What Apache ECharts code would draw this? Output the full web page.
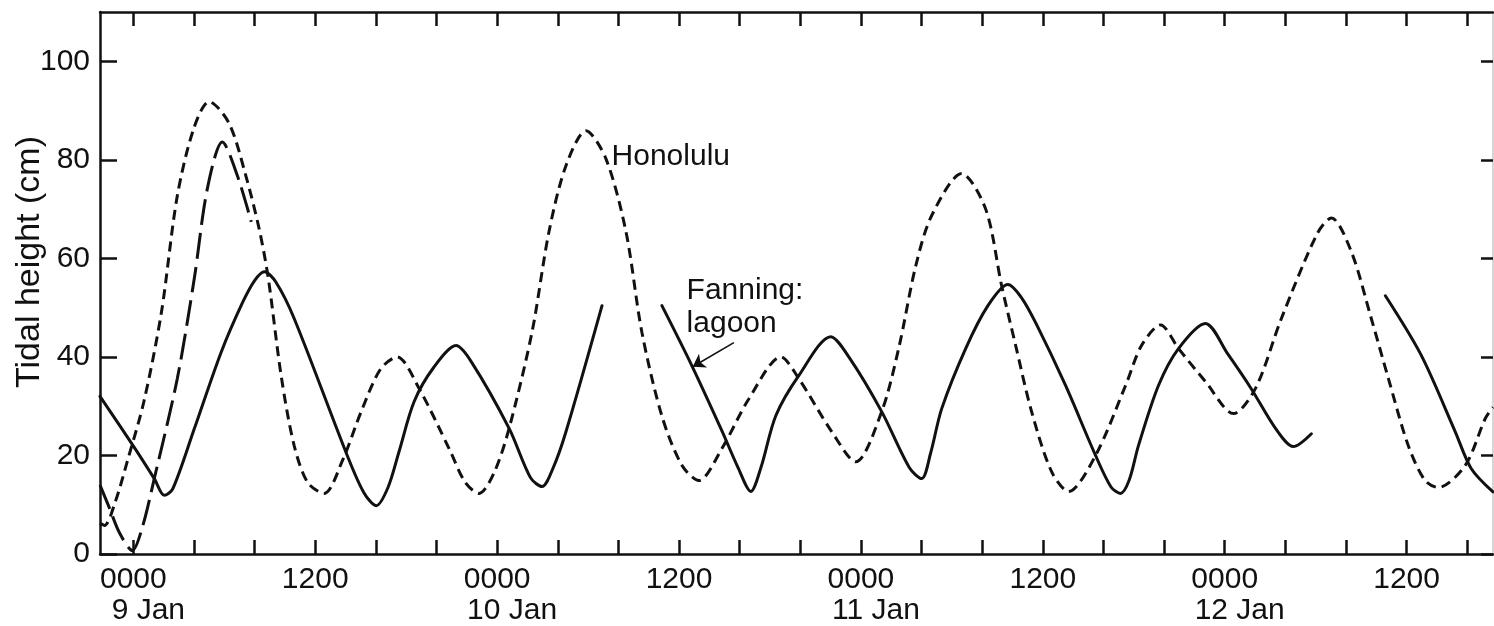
<!DOCTYPE html>
<html>
<head>
<meta charset="utf-8">
<title>Tidal height</title>
<script src="https://cdn.jsdelivr.net/npm/echarts@6/dist/echarts.min.js"></script>
<style>
  html, body { margin: 0; padding: 0; background: #fff; }
  #chart { width: 1494px; height: 626px; }
</style>
</head>
<body>
<div id="chart"></div>
<script>
// Hours are counted from 0000, 9 Jan; heights in cm.
const xTickHours = [0, 4, 8, 12, 16, 20, 24, 28, 32, 36, 40, 44, 48, 52, 56, 60, 64, 68, 72, 76, 80, 84, 88];
const xLabelHours = [0, 12, 24, 36, 48, 60, 72, 84];
const xLabelTime = ['0000', '1200', '0000', '1200', '0000', '1200', '0000', '1200'];
const xLabelDay = ['9 Jan', '', '10 Jan', '', '11 Jan', '', '12 Jan', ''];
const yTicks = [0, 20, 40, 60, 80, 100];

// Honolulu tide (short dashes)
const honolulu = [
  [-2.2, 6.2], [-1.9, 5.8], [-1.2, 10.5], [-0.4, 18.8], [0.7, 31], [1.85, 49], [2.9, 72.7],
  [4.0, 86.5], [5.0, 91.8], [6.3, 87.5], [7.4, 77], [8.3, 66], [8.9, 56], [9.76, 36],
  [10.61, 22], [11.5, 14.5], [12.59, 12.3], [13.8, 19], [15.03, 28.9], [16.3, 37.5], [17.4, 40],
  [18.85, 33.6], [20.83, 21.4], [21.9, 14.5], [22.81, 12.3], [23.8, 16.5], [24.79, 25.5], [26.3, 45],
  [27.42, 65.4], [28.54, 78.8], [29.86, 85.9], [31.18, 80.2], [32.5, 65.4],
  [33.55, 45], [34.87, 28], [36.19, 18], [37.31, 14.9], [38.83, 21.4],
  [40.61, 31.5], [42.72, 40], [43.9, 35.6], [46.08, 24.8], [47.66, 18.7],
  [49.37, 28.9], [50.49, 41.7], [51.62, 58.5], [52.67, 68.7], [54.65, 77.2],
  [56.23, 70], [57.28, 54.5], [58.21, 42.3], [59.26, 28.9], [60.58, 16.7],
  [61.7, 12.7], [63.48, 20], [65.46, 34.2], [66.51, 42.3], [67.77, 46.5],
  [68.95, 41.7], [70.73, 35], [72.58, 28.5], [74.03, 33.6], [75.74, 47.8],
  [78.1, 65], [79.04, 68.2], [80.36, 61.3], [81.67, 47.8], [82.8, 35.6],
  [84.11, 22], [85.2, 15], [86.09, 13.5], [87.87, 18], [89.19, 27.5], [89.7, 29.8]
];

// Fanning, ocean side (long dashes), short record at the start
const fanningOcean = [
  [-2.2, 14], [-1.6, 9.5], [-0.9, 4.2], [-0.07, 0.7], [0.6, 5.5], [1.38, 15.3], [2.9, 35.6],
  [4.02, 55.9], [4.88, 74.1], [5.87, 83.6], [6.86, 76.8], [7.78, 67.4]
];

// Fanning lagoon (solid), three recorded stretches
const lagoonPart1 = [
  [-2.2, 32], [0.07, 21.6], [1.4, 15.2], [2.04, 11.9], [2.6, 13.2], [4.02, 25.4], [5.8, 41],
  [7.2, 51], [8.0, 55.5], [8.64, 57.3], [9.4, 55.2], [10.61, 47.8], [14.11, 20], [15.2, 12.5],
  [16.02, 9.8], [16.8, 13.5], [17.53, 20.8], [18.52, 30.9], [19.8, 37.8], [21.29, 42.3],
  [22.3, 39], [24.79, 25.5], [26.2, 15.5], [26.96, 13.7], [27.7, 17.5], [28.54, 24.8],
  [30.92, 50.4]
];
const lagoonPart2 = [
  [34.87, 50.4], [36.85, 38.2], [38.83, 25], [39.9, 17.5], [40.74, 12.7], [41.4, 17.5], [42.39, 28.1],
  [43.9, 36.2], [46.01, 44.1], [47.2, 40], [49.37, 28.9], [51.2, 17.5], [52.01, 15.3], [52.6, 20.5],
  [53.33, 29.5], [54.91, 41.7], [56.4, 50.5], [57.7, 54.7], [58.6, 52], [59.6, 46.5], [61.5, 34.2],
  [63.48, 20], [64.5, 13.6], [65.13, 12.3], [65.7, 15], [66.31, 22], [67.63, 34.2], [68.95, 41.7],
  [70.73, 46.8], [72.2, 40.6], [73.76, 33.5], [75.35, 25.5], [76.53, 21.8], [77.72, 24.4]
];
const lagoonPart3 = [
  [82.6, 52.4], [84.97, 40.3], [87.21, 24.8], [88.27, 17.3], [89.7, 12.6]
];

// Annotation anchors (hours, cm)
const honoluluNoteAt = [31.55, 80.6];
const lagoonNoteAt = [36.5, 50];
const arrowFrom = [39.62, 42.9];
const arrowTo = [36.9, 38.0];

const FONT = '"Liberation Sans", Arial, sans-serif';
const INK = '#111';
const SMOOTH = 0.3;

const chart = echarts.init(document.getElementById('chart'), null, { renderer: 'canvas' });

const solidStyle = { color: INK, width: 3, type: 'solid', cap: 'round', join: 'round' };

function lagoonSeries(data, extra) {
  return Object.assign({
    type: 'line', data: data, showSymbol: false, smooth: SMOOTH,
    lineStyle: solidStyle, z: 3, silent: true
  }, extra || {});
}

const tickStyle = { color: INK, width: 2.5 };

chart.setOption({
  animation: false,
  backgroundColor: '#fff',
  grid: { left: 100, right: 1, top: 12, bottom: 70, containLabel: false },
  xAxis: [
    {
      type: 'value', position: 'bottom', min: -2.2, max: 89.7,
      axisLine: { show: true, onZero: false, lineStyle: { color: INK, width: 2.5 } },
      axisTick: { show: true, inside: true, length: 14, lineStyle: tickStyle, customValues: xTickHours },
      axisLabel: {
        show: true, margin: 10, customValues: xLabelHours, color: INK,
        fontFamily: FONT, fontSize: 30, lineHeight: 31,
        formatter: function (v) {
          const i = xLabelHours.indexOf(Math.round(v));
          if (i < 0) return '';
          return xLabelDay[i] ? xLabelTime[i] + '\n{day|' + xLabelDay[i] + '}' : xLabelTime[i];
        },
        rich: { day: { fontFamily: FONT, fontSize: 30, lineHeight: 31, color: INK, padding: [0, 0, 0, 30] } }
      },
      splitLine: { show: false }
    },
    {
      type: 'value', position: 'top', min: -2.2, max: 89.7,
      axisLine: { show: true, onZero: false, lineStyle: { color: INK, width: 2.5 } },
      axisTick: { show: true, inside: true, length: 14, lineStyle: tickStyle, customValues: xTickHours },
      axisLabel: { show: false },
      splitLine: { show: false }
    }
  ],
  yAxis: [
    {
      type: 'value', position: 'left', min: 0, max: 110,
      axisLine: { show: true, onZero: false, lineStyle: { color: INK, width: 2.5 } },
      axisTick: { show: true, inside: true, length: 17, lineStyle: tickStyle, customValues: yTicks },
      axisLabel: { show: true, margin: 10, customValues: yTicks, color: INK, fontFamily: FONT, fontSize: 30 },
      splitLine: { show: false }
    },
    {
      type: 'value', position: 'right', min: 0, max: 110,
      axisLine: { show: true, onZero: false, lineStyle: { color: '#c8c8c8', width: 1.5 } },
      axisTick: { show: true, inside: true, length: 12, lineStyle: tickStyle, customValues: yTicks },
      axisLabel: { show: false },
      splitLine: { show: false }
    }
  ],
  series: [
    {
      name: 'Honolulu', type: 'line', data: honolulu, showSymbol: false, smooth: SMOOTH,
      silent: true, lineStyle: { color: INK, width: 3, type: [10, 6] }, z: 2
    },
    {
      name: 'Fanning ocean', type: 'line', data: fanningOcean, showSymbol: false, smooth: SMOOTH,
      silent: true, lineStyle: { color: INK, width: 3, type: [26, 8] }, z: 2
    },
    lagoonSeries(lagoonPart1),
    lagoonSeries(lagoonPart2, {
      markLine: {
        silent: true, symbol: ['none', 'arrow'], symbolSize: 12,
        label: { show: false },
        lineStyle: { color: INK, width: 1.6, type: 'solid' },
        emphasis: { disabled: true },
        data: [[{ coord: arrowFrom }, { coord: arrowTo }]]
      }
    }),
    lagoonSeries(lagoonPart3)
  ]
});

// Text annotations anchored at data positions
const pHon = chart.convertToPixel({ gridIndex: 0 }, honoluluNoteAt);
const pLag = chart.convertToPixel({ gridIndex: 0 }, lagoonNoteAt);
chart.setOption({
  graphic: [
    {
      type: 'text', x: 30, y: 262, rotation: Math.PI / 2,
      style: { text: 'Tidal height (cm)', fill: INK, font: '34px ' + FONT, textAlign: 'center', textVerticalAlign: 'middle' }
    },
    {
      type: 'text', x: pHon[0], y: pHon[1],
      style: { text: 'Honolulu', fill: INK, font: '30px ' + FONT, textAlign: 'left', textVerticalAlign: 'middle' }
    },
    {
      type: 'text', x: pLag[0], y: pLag[1],
      style: { text: 'Fanning:\nlagoon', fill: INK, font: '30px ' + FONT, lineHeight: 33, textAlign: 'left', textVerticalAlign: 'middle' }
    }
  ]
});
</script>
</body>
</html>
